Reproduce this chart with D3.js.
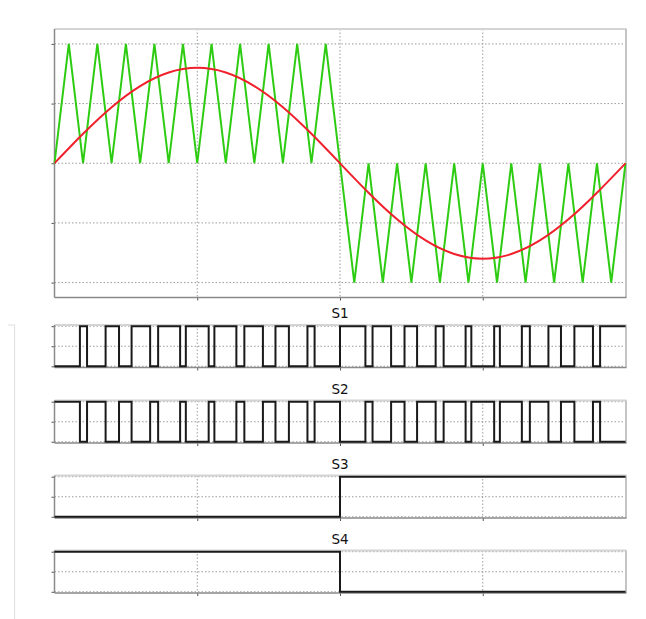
<!DOCTYPE html>
<html><head><meta charset="utf-8">
<script src="https://cdn.jsdelivr.net/npm/d3@7/dist/d3.min.js"></script>
<style>
html,body{margin:0;padding:0;background:#fff;}
svg{display:block;}
text{font-family:"DejaVu Sans",Verdana,sans-serif;}
</style></head>
<body><svg id="chart" width="646" height="619"></svg>
<script>
// ---- data (time in ms) ----
const sineTimes = [0,1,2,3,4,5,6,7,8,9,10,11,12,13,14,15,16,17,18,19,20];
const sineValues = [0,0.247,0.470,0.647,0.761,0.8,0.761,0.647,0.470,0.247,0,-0.247,-0.470,-0.647,-0.761,-0.8,-0.761,-0.647,-0.470,-0.247,0];
const carrierValues = [0,1,0,1,0,1,0,1,0,1,0,1,0,1,0,1,0,1,0,1,0,
                       -1,0,-1,0,-1,0,-1,0,-1,0,-1,0,-1,0,-1,0,-1,0,-1,0];
const carrierStep = 0.5;
const s1Start = 0;
const s1Edges = [0.89,1.14,1.79,2.26,2.70,3.35,3.63,4.40,4.60,5.40,5.60,6.37,6.65,7.30,7.74,8.21,8.86,9.11,
                 10.0,10.89,11.14,11.79,12.26,12.70,13.35,13.63,14.40,14.60,15.40,15.60,16.37,16.65,17.30,17.74,18.21,18.86,19.11];
const s2Start = 1;
const s2Edges = [0.89,1.14,1.79,2.26,2.70,3.35,3.63,4.40,4.60,5.40,5.60,6.37,6.65,7.30,7.74,8.21,8.86,9.11,
                 10.0,10.89,11.14,11.79,12.26,12.70,13.35,13.63,14.40,14.60,15.40,15.60,16.37,16.65,17.30,17.74,18.21,18.86,19.11];
const s3Start = 0, s3Edges = [10];
const s4Start = 1, s4Edges = [10];
const panelTitles = ["S1","S2","S3","S4"];
const xGridTicks = [5,10,15];
const topYTicks = [-1,-0.5,0,0.5,1];
const panelYTicks = [0,0.5,1];

// ---- layout ----
const svg = d3.select("#chart");
const X0 = 54.5, X1 = 625.5;
const x = d3.scaleLinear().domain([0,20]).range([X0, X1]);

const GRID = "#9a9a9a";
function frame(g, y, yTicks, top, bottom){
  // grid
  g.append("g").selectAll("line").data(yTicks).join("line")
    .attr("x1",X0).attr("x2",X1).attr("y1",d=>y(d)).attr("y2",d=>y(d))
    .attr("stroke",GRID).attr("stroke-width",1).attr("stroke-dasharray","1.5,2");
  g.append("g").selectAll("line").data(xGridTicks).join("line")
    .attr("x1",d=>x(d)).attr("x2",d=>x(d)).attr("y1",top).attr("y2",bottom)
    .attr("stroke",GRID).attr("stroke-width",1).attr("stroke-dasharray","1.5,2");
  // borders
  g.append("line").attr("x1",X0).attr("x2",X1+1).attr("y1",top).attr("y2",top)
    .attr("stroke","#d4d4d4").attr("stroke-width",2);
  g.append("line").attr("x1",X1+0.5).attr("x2",X1+0.5).attr("y1",top).attr("y2",bottom)
    .attr("stroke","#c4c4c4").attr("stroke-width",2);
  // axes
  const ax = g.append("g").attr("transform",`translate(${X0},0)`)
    .call(d3.axisLeft(y).tickValues(yTicks).tickSize(3).tickFormat(""));
  ax.select(".domain").remove();
  ax.selectAll(".tick line").attr("stroke","#555");
  const bx = g.append("g").attr("transform",`translate(0,${bottom})`)
    .call(d3.axisBottom(x).tickValues(xGridTicks).tickSize(3).tickFormat(""));
  bx.select(".domain").remove();
  bx.selectAll(".tick line").attr("stroke","#555");
  g.append("line").attr("x1",X0).attr("x2",X0).attr("y1",top).attr("y2",bottom)
    .attr("stroke","#8a8a8a").attr("stroke-width",1.5);
  g.append("line").attr("x1",X0).attr("x2",X1+1).attr("y1",bottom).attr("y2",bottom)
    .attr("stroke","#8a8a8a").attr("stroke-width",1.5);
}

// top plot
const T0 = 29, T1 = 297.5;
const yTop = d3.scaleLinear().domain([-1.125,1.125]).range([T1, T0]);
const gTop = svg.append("g");
frame(gTop, yTop, topYTicks, T0, T1);
const clip = svg.append("clipPath").attr("id","clipTop").append("rect")
  .attr("x",X0).attr("y",T0).attr("width",X1-X0+1).attr("height",T1-T0);
const carrier = carrierValues.map((v,i)=>[i*carrierStep, v]);
gTop.append("path").datum(carrier)
  .attr("d", d3.line().x(d=>x(d[0])).y(d=>yTop(d[1])))
  .attr("fill","none").attr("stroke","#2dcc12").attr("stroke-width",2)
  .attr("stroke-linejoin","miter");
gTop.append("path").datum(sineTimes.map((t,i)=>[t, sineValues[i]]))
  .attr("d", d3.line().x(d=>x(d[0])).y(d=>yTop(d[1])).curve(d3.curveNatural))
  .attr("fill","none").attr("stroke","#f0202c").attr("stroke-width",2)
  .attr("clip-path","url(#clipTop)");

// switch panels
const panels = [
  {title:panelTitles[0], start:s1Start, edges:s1Edges, top:325},
  {title:panelTitles[1], start:s2Start, edges:s2Edges, top:400.5},
  {title:panelTitles[2], start:s3Start, edges:s3Edges, top:475.5},
  {title:panelTitles[3], start:s4Start, edges:s4Edges, top:550.5}
];
const PH = 42.5;
panels.forEach(p=>{
  const top = p.top, bottom = p.top + PH;
  const y = d3.scaleLinear().domain([-0.03,1.03]).range([bottom, top]);
  const g = svg.append("g");
  frame(g, y, panelYTicks, top, bottom);
  const pts = [[0, p.start]];
  let lvl = p.start;
  p.edges.forEach(t=>{ lvl = 1 - lvl; pts.push([t, lvl]); });
  pts.push([20, lvl]);
  g.append("path").datum(pts)
    .attr("d", d3.line().x(d=>x(d[0])).y(d=>y(d[1])).curve(d3.curveStepAfter))
    .attr("fill","none").attr("stroke","#1a1a1a").attr("stroke-width",2);
  g.append("text").attr("x", x(10)).attr("y", top - 7)
    .attr("text-anchor","middle").attr("font-size",13.5).attr("fill","#111")
    .text(p.title);
});

// left bracket line
svg.append("path").attr("d","M8,325H14.5V619")
  .attr("fill","none").attr("stroke","#e2e2e2").attr("stroke-width",1.2);
</script></body></html>
